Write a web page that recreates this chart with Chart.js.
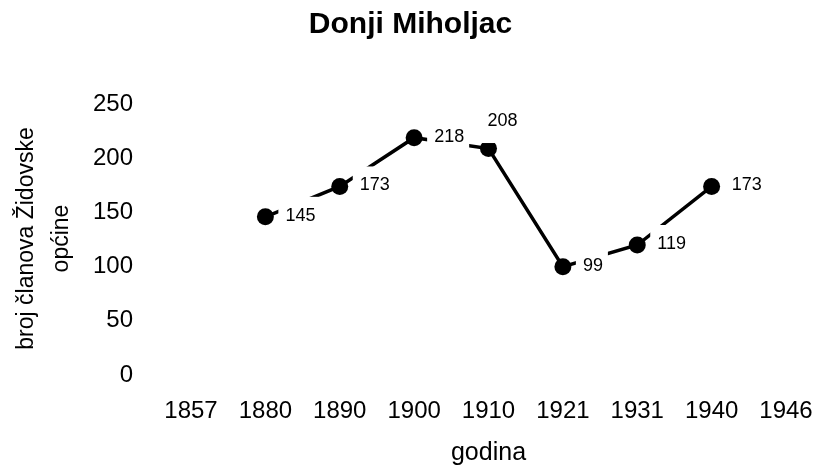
<!DOCTYPE html>
<html>
<head>
<meta charset="utf-8">
<title>Donji Miholjac</title>
<script src="https://cdn.jsdelivr.net/npm/chart.js@4"></script>
<style>
  html, body { margin: 0; padding: 0; background: #fff; }
  canvas { display: block; }
</style>
</head>
<body>
<canvas id="myChart" width="814" height="470"></canvas>
<script>
// podaci
const godine = ['1857', '1880', '1890', '1900', '1910', '1921', '1931', '1940', '1946'];
const clanovi = [null, 145, 173, 218, 208, 99, 119, 173, null];
const yTicks = [0, 50, 100, 150, 200, 250];

const fontFamily = '"Liberation Sans", Arial, Helvetica, sans-serif';

// label iznad tocke umjesto desno
const labelAbove = [false, false, false, false, true, false, false, false, false];

// oznake vrijednosti s bijelom pozadinom
const valueLabels = {
        id: 'valueLabels',
        afterDatasetsDraw(chart) {
                const ctx = chart.ctx;
                const meta = chart.getDatasetMeta(0);
                ctx.save();
                ctx.font = '18px ' + fontFamily;
                ctx.textBaseline = 'middle';
                ctx.textAlign = 'left';
                meta.data.forEach((pt, i) => {
                        const v = clanovi[i];
                        if (v == null) return;
                        const txt = String(v);
                        const w = ctx.measureText(txt).width;
                        let tx, ty, bx, by, bw, bh;
                        if (labelAbove[i]) {
                                tx = pt.x + 14 - w / 2;
                                ty = pt.y - 27;
                                bx = tx - 6;
                                by = ty - 16;
                                bw = w + 12;
                                bh = 37.5;
                        } else {
                                tx = pt.x + 20;
                                ty = pt.y - 1;
                                bx = pt.x + 13;
                                by = ty - 19;
                                bw = tx - bx + w + 5;
                                bh = 38;
                        }
                        ctx.fillStyle = '#fff';
                        ctx.fillRect(bx, by, bw, bh);
                        ctx.fillStyle = '#000';
                        ctx.fillText(txt, tx, ty);
                });
                ctx.restore();
        }
};

const data = {
        labels: godine,
        datasets: [{
                data: clanovi,
                borderColor: '#000',
                borderWidth: 3.5,
                backgroundColor: '#000',
                pointBackgroundColor: '#000',
                pointBorderColor: '#000',
                pointBorderWidth: 0,
                pointRadius: 8.5,
                pointHoverRadius: 8.5,
                tension: 0
        }]
};

const config = {
        type: 'line',
        data: data,
        options: {
                responsive: false,
                animation: false,
                events: [],
                layout: { padding: { left: 8, right: 1, top: 0, bottom: 0 } },
                plugins: {
                        legend: { display: false },
                        tooltip: { enabled: false },
                        title: {
                                display: true,
                                text: 'Donji Miholjac',
                                color: '#000',
                                font: { family: fontFamily, size: 30, weight: 'bold', lineHeight: 1.2 },
                                padding: { top: 7, bottom: 60 }
                        }
                },
                scales: {
                        x: {
                                offset: false,
                                grid: { display: false, drawTicks: false },
                                border: { display: false },
                                ticks: {
                                        color: '#000',
                                        autoSkip: false,
                                        maxRotation: 0,
                                        padding: 23,
                                        font: { family: fontFamily, size: 24 }
                                },
                                title: {
                                        display: true,
                                        text: 'godina',
                                        color: '#000',
                                        font: { family: fontFamily, size: 25, lineHeight: 1.2 },
                                        padding: { top: 0, bottom: 2 }
                                },
                                afterFit(scale) {
                                        scale.height = 96;
                                        scale.paddingLeft = 0;
                                        scale.paddingRight = 28;
                                }
                        },
                        y: {
                                min: 0,
                                max: 250,
                                grid: { display: false, drawTicks: false },
                                border: { display: false },
                                afterBuildTicks(scale) {
                                        scale.ticks = yTicks.map(v => ({ value: v }));
                                },
                                ticks: {
                                        color: '#000',
                                        padding: 58,
                                        labelOffset: 1,
                                        font: { family: fontFamily, size: 24 }
                                },
                                title: {
                                        display: true,
                                        text: ['broj članova Židovske', 'općine'],
                                        color: '#000',
                                        font: { family: fontFamily, size: 23, lineHeight: 1.52 },
                                        padding: { top: 1, bottom: 0 }
                                },
                                afterFit(scale) { scale.width = 183; }
                        }
                }
        },
        plugins: [valueLabels]
};

const myChart = new Chart(document.getElementById('myChart'), config);
</script>
</body>
</html>
